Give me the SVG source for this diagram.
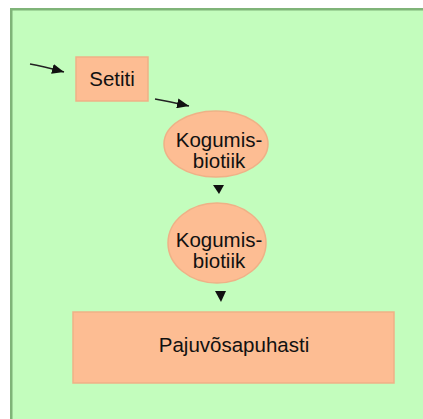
<svg xmlns="http://www.w3.org/2000/svg" width="423" height="419" viewBox="0 0 423 419">
  <defs>
    <marker id="head" viewBox="0 0 12 10" refX="12" refY="5" markerWidth="12" markerHeight="10" markerUnits="userSpaceOnUse" orient="auto">
      <path d="M0,0 L12,5 L0,10 Z" fill="#111"/>
    </marker>
  </defs>
  <style>
    .node { fill: #fdbd93; stroke: #efb187; stroke-width: 1.5; }
    .label { font-family: "Liberation Sans", Arial, sans-serif; font-size: 20.5px; fill: #111; text-anchor: middle; }
    .link { fill: none; stroke: #222; stroke-width: 1.5; }
    .tri { fill: #111; }
  </style>

  <!-- page background and panel -->
  <rect x="0" y="0" width="423" height="419" fill="#ffffff"/>
  <rect x="10" y="8" width="413" height="411" fill="#c3fdbd"/>
  <rect x="10" y="8" width="413" height="2.5" fill="#7fb478"/>
  <rect x="10" y="8" width="2.5" height="411" fill="#7fb478"/>

  <!-- connectors -->
  <g id="connectors">
    <path class="link" d="M30,64 Q42,66 64,72" marker-end="url(#head)"/>
    <path class="link" d="M155,99 Q167,101 189,106" marker-end="url(#head)"/>
    <path class="tri" d="M213,185 L224,185 L219,194 Z"/>
    <path class="tri" d="M215,291 L226,291 L221,302 Z"/>
  </g>

  <g id="setiti">
    <rect class="node" x="76" y="57" width="72" height="44"/>
    <text class="label" x="112" y="86">Setiti</text>
  </g>

  <g id="kogumisbiotiik-1">
    <ellipse class="node" cx="216" cy="144" rx="52" ry="33"/>
    <text class="label" x="219" y="147">Kogumis-</text>
    <text class="label" x="219" y="168">biotiik</text>
  </g>

  <g id="kogumisbiotiik-2">
    <ellipse class="node" cx="217" cy="243" rx="49" ry="40"/>
    <text class="label" x="219" y="247">Kogumis-</text>
    <text class="label" x="219" y="268">biotiik</text>
  </g>

  <g id="pajuvosapuhasti">
    <rect class="node" x="73" y="312" width="321" height="71"/>
    <text class="label" x="234" y="352">Pajuvõsapuhasti</text>
  </g>
</svg>
